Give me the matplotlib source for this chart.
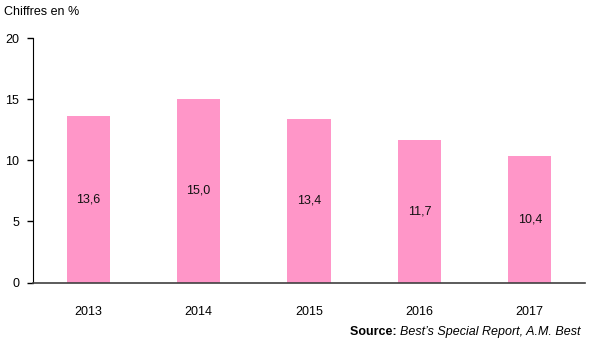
import matplotlib
matplotlib.use("Agg")
import matplotlib.pyplot as plt

plt.rcParams['font.family'] = ['Liberation Sans', 'DejaVu Sans']

years = ["2013", "2014", "2015", "2016", "2017"]
values = [13.6, 15.0, 13.4, 11.7, 10.4]
labels = ["13,6", "15,0", "13,4", "11,7", "10,4"]
yticks = [0, 5, 10, 15, 20]

fig = plt.figure(figsize=(6.0, 3.45), dpi=100)
ax = fig.add_axes([0.055, 0.181, 0.92, 0.708])

x = list(range(len(years)))
ax.bar(x, values, width=0.39, color="#FF96C8", zorder=2)
for xi, v, lab in zip(x, values, labels):
    ax.text(xi, v / 2, lab, ha="center", va="center", fontsize=9, color="#111111")

ax.set_xlim(-0.5, len(years) - 0.5)
ax.set_ylim(0, 20)
ax.set_yticks(yticks)
ax.set_xticks(x)
ax.set_xticklabels(years)

for s in ("top", "right"):
    ax.spines[s].set_visible(False)
ax.spines["left"].set_color("#000000")
ax.spines["bottom"].set_color("#404040")
ax.spines["bottom"].set_linewidth(1.2)
ax.tick_params(axis="y", direction="out", length=4, width=1, pad=6, labelsize=9, colors="#000000")
ax.tick_params(axis="x", length=0, pad=17, labelsize=9)

fig.text(0.007, 0.965, "Chiffres en %", ha="left", va="center", fontsize=9)

# Source line: italic part right-aligned, bold prefix placed just before it
y_src = 0.037
src_it = fig.text(0.968, y_src, "Best’s Special Report, A.M. Best", ha="right", va="center",
                  fontsize=9, fontstyle="italic")
fig.canvas.draw()
bb = src_it.get_window_extent()
fig.text(bb.x0 / fig.bbox.width, y_src, "Source: ", ha="right", va="center",
         fontsize=9, fontweight="bold")

fig.savefig("out.png", dpi=100)
